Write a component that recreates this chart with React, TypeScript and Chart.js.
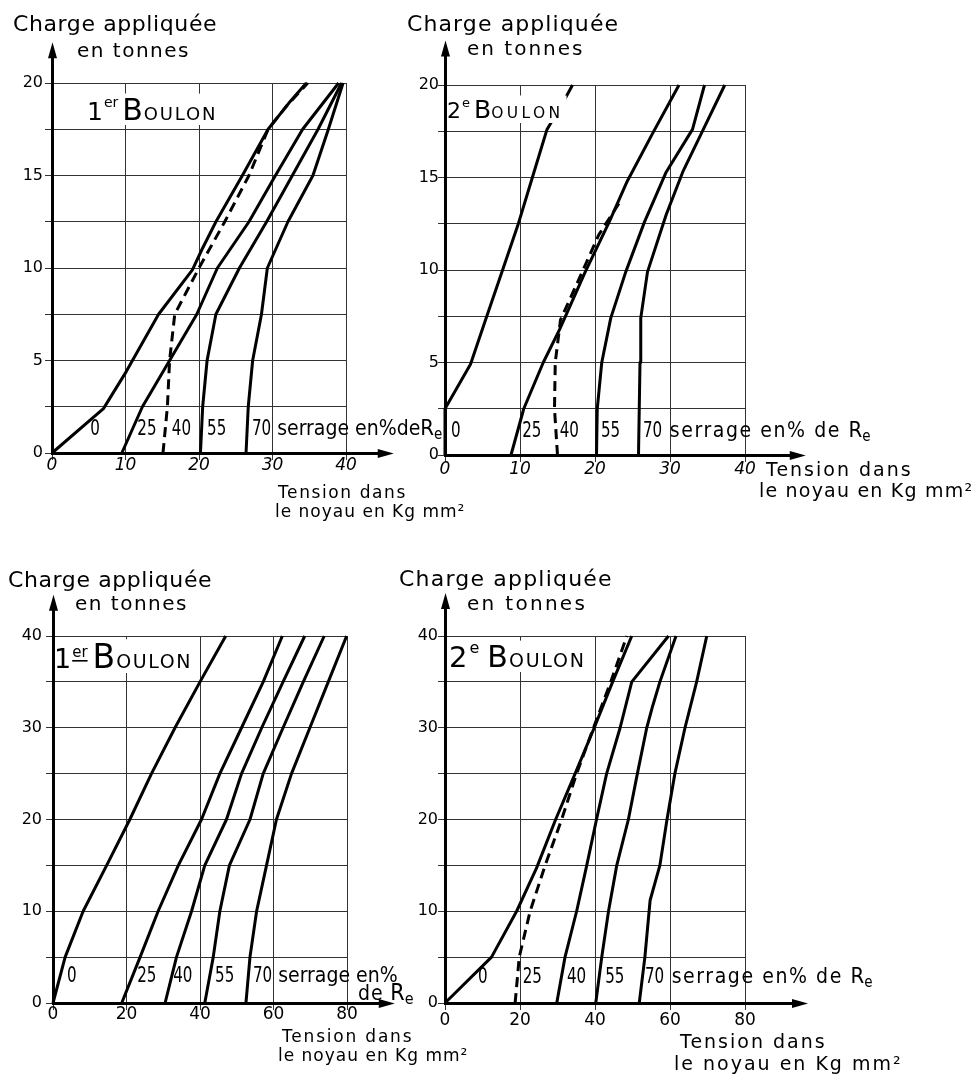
import React, { useEffect, useRef } from "react";
import { Chart, registerables } from "chart.js";

Chart.register(...registerables);

type Pt = [number, number];

// ===== Values: [tension dans le noyau (kg/mm²), charge appliquée (t)] =====

// 1er boulon – charge 0–20 t (top left)
const B1_20_S0: Pt[] = [[0, 0], [7, 2.4], [10.1, 4.4], [14.5, 7.5], [19.1, 9.9], [20.4, 11], [22.3, 12.5], [25.9, 15], [29.4, 17.5], [32.2, 18.9], [34.6, 20]];
const B1_20_S25: Pt[] = [[9.5, 0], [12.3, 2.5], [16, 5], [19.7, 7.5], [22.5, 10], [26.8, 12.5], [30.4, 15], [34.1, 17.5], [39, 20]];
const B1_20_S40: Pt[] = [[15.1, 0], [15.7, 2.5], [16, 5], [16.7, 7.5], [20, 10], [23.5, 12.5], [26.8, 15], [29.4, 17.5], [32, 18.8], [34.8, 20]];
const B1_20_S55: Pt[] = [[20.2, 0], [20.5, 2.5], [21.1, 5], [22.3, 7.5], [25.5, 10], [29.2, 12.5], [32.7, 15], [36.2, 17.5], [39.4, 20]];
const B1_20_S70: Pt[] = [[26.4, 0], [26.7, 2.5], [27.3, 5], [28.5, 7.5], [29.3, 10], [32.1, 12.5], [35.5, 15], [37.6, 17.5], [39.6, 20]];

// 2e boulon – charge 0–20 t (top right)
const B2_20_S0: Pt[] = [[0, 0], [0, 2.5], [3.4, 4.9], [5.4, 7.3], [7.6, 9.9], [9.7, 12.4], [11.8, 15.2], [13.6, 17.6], [15.8, 19.1], [17, 20]];
const B2_20_S25: Pt[] = [[8.8, 0], [10.5, 2.5], [13.1, 5], [15.3, 6.8], [18.7, 9.9], [21.9, 12.6], [24.3, 14.8], [27.7, 17.4], [31.2, 20]];
const B2_20_S40: Pt[] = [[15, 0], [14.6, 2.5], [14.7, 5], [15.4, 7.3], [18.3, 9.9], [20.5, 11.9], [23.2, 13.6]];
const B2_20_S55: Pt[] = [[20.2, 0], [20.3, 2.5], [20.9, 5], [22.1, 7.4], [24.1, 9.9], [26.6, 12.6], [29.5, 15.3], [33, 17.6], [34.6, 20]];
const B2_20_S70: Pt[] = [[25.8, 0], [26, 5], [26.1, 7.4], [27, 9.9], [29.5, 13], [31.7, 15.3], [34.2, 17.4], [37.3, 20]];

// 1er boulon – charge 0–40 t (bottom left)
const B1_40_S0: Pt[] = [[0, 0], [3.3, 5], [8.2, 10], [14.6, 15], [20.9, 20], [26.8, 25], [33.2, 30], [40, 35], [47, 40]];
const B1_40_S25: Pt[] = [[18.7, 0], [23.7, 5], [28.6, 10], [34.1, 15], [40.4, 20], [45.4, 25], [51.3, 30], [57.2, 35], [62.4, 40]];
const B1_40_S40: Pt[] = [[30.5, 0], [33.6, 5], [37.7, 10], [41.3, 15], [47.2, 20], [51.3, 25], [56.8, 30], [62.6, 35], [68.5, 40]];
const B1_40_S55: Pt[] = [[41.3, 0], [43.6, 5], [45.4, 10], [48, 15], [53.6, 20], [57.2, 25], [62.6, 30], [68.1, 35], [73.8, 40]];
const B1_40_S70: Pt[] = [[52.5, 0], [53.6, 5], [55.4, 10], [58.1, 15], [60.8, 20], [64.9, 25], [69.9, 30], [74.9, 35], [79.9, 40]];

// 2e boulon – charge 0–40 t (bottom right)
const B2_40_S0: Pt[] = [[0, 0], [12.4, 5], [19.1, 10], [24.4, 14.7], [29.5, 20], [34.7, 25], [39.8, 30], [44.7, 35], [49.8, 40]];
const B2_40_S25: Pt[] = [[18.7, 0], [19.8, 5], [22.7, 10], [26.7, 15], [31.1, 20], [35.1, 25], [39.6, 30], [44.2, 35], [48.5, 40]];
const B2_40_S40: Pt[] = [[29.8, 0], [32, 5], [35.1, 10], [37.8, 15], [40.4, 20], [43.1, 25], [46.7, 30], [49.8, 35], [59.6, 40]];
const B2_40_S55: Pt[] = [[40.2, 0], [41.8, 5], [43.6, 10], [45.8, 15], [48.9, 20], [51.3, 25], [53.8, 30], [55.4, 32.4], [57.3, 35], [61.6, 40]];
const B2_40_S70: Pt[] = [[51.8, 0], [53.3, 5], [54.7, 11.2], [57.3, 15], [59.2, 20], [61.3, 25], [64, 30], [67.1, 35], [69.8, 40]];

// Serrage labels (% de Re) and where they sit along x
const SERRAGE_LABELS = ["0", "25", "40", "55", "70"];
const B1_20_LABEL_X = [5.2, 11.6, 16.3, 21.1, 27.2];
const B2_20_LABEL_X = [0.8, 10.3, 15.3, 20.8, 26.4];
const B1_40_LABEL_X = [3.8, 22.9, 32.7, 44.1, 54.4];
const B2_40_LABEL_X = [8.8, 20.7, 32.5, 42.7, 53.3];

// Ticks
const Y_GRID_20 = [0, 2.5, 5, 7.5, 10, 12.5, 15, 17.5, 20];
const Y_LABELS_20 = [0, 5, 10, 15, 20];
const X_TICKS_40 = [0, 10, 20, 30, 40];
const Y_GRID_40 = [0, 5, 10, 15, 20, 25, 30, 35, 40];
const Y_LABELS_40 = [0, 10, 20, 30, 40];
const X_TICKS_80 = [0, 20, 40, 60, 80];

// ===== Drawing helpers =====
const FAMILY = '"DejaVu Sans", "Liberation Sans", sans-serif';

interface Part { t: string; size: number; sx?: number; sp?: number; dx?: number; dy?: number; ul?: boolean }
interface TextItem { t: string; x: number; y: number; size: number; sp: number }
interface Spec {
  canvas: { x: number; y: number; w: number; h: number };
  plot: { left: number; top: number; right: number; bottom: number };
  xMax: number; yMax: number;
  xTicks: number[]; yGrid: number[]; yLabels: number[];
  xTip: number; yTip: number;
  xPad: number; yPad: number; xItalic: boolean;
  series: { pts: Pt[]; dashed: boolean }[];
  labelX: number[]; labelY: number;
  tail: Part[];
  line2?: { x: number; y: number; parts: Part[] };
  badge: { x: number; y: number; parts: Part[] };
  texts: TextItem[];
}

const DIGIT = { size: 21, sx: 0.72 };
const WORD = { size: 21, sx: 0.9 };

function drawParts(ctx: CanvasRenderingContext2D, x: number, y: number, parts: Part[], draw = true): number {
  let cx = x;
  for (const p of parts) {
    cx += p.dx ?? 0;
    const sx = p.sx ?? 1;
    ctx.save();
    ctx.font = `${p.size}px ${FAMILY}`;
    (ctx as any).letterSpacing = `${p.sp ?? 0}px`;
    ctx.textAlign = "left";
    ctx.textBaseline = "alphabetic";
    const w = ctx.measureText(p.t).width * sx;
    if (draw) {
      ctx.fillStyle = "#000";
      ctx.translate(cx, y + (p.dy ?? 0));
      ctx.scale(sx, 1);
      ctx.fillText(p.t, 0, 0);
    }
    ctx.restore();
    if (draw && p.ul) {
      ctx.save();
      ctx.fillStyle = "#000";
      ctx.fillRect(cx, y + (p.dy ?? 0) + 3, w - (p.sp ?? 0) * sx, 1.6);
      ctx.restore();
    }
    cx += w;
  }
  return cx;
}

function decoPlugin(s: Spec) {
  const ox = s.canvas.x, oy = s.canvas.y;
  return {
    id: "deco",
    afterDatasetsDraw(chart: any) {
      const ctx: CanvasRenderingContext2D = chart.ctx;
      const area = chart.chartArea;
      const bx = s.badge.x - ox, by = s.badge.y - oy;
      const end = drawParts(ctx, bx, by, s.badge.parts, false);
      const maxSize = Math.max(...s.badge.parts.map((p) => p.size));
      const left = Math.max(bx - 3, area.left + 2);
      const top = Math.max(by - maxSize * 0.78 - 3, area.top + 2);
      ctx.save();
      ctx.fillStyle = "#fff";
      ctx.fillRect(left, top, end + 3 - left, by + 5 - top);
      ctx.restore();
      drawParts(ctx, bx, by, s.badge.parts);
    },
    afterDraw(chart: any) {
      const ctx: CanvasRenderingContext2D = chart.ctx;
      const xs = chart.scales.x, ys = chart.scales.y;
      const area = chart.chartArea;
      const x0 = Math.round(xs.getPixelForValue(0) - 1.5) + 1.5;
      const y0 = Math.round(ys.getPixelForValue(0) - 1.5) + 1.5;
      ctx.save();
      ctx.strokeStyle = "#000";
      ctx.fillStyle = "#000";
      ctx.lineWidth = 3;
      const ty = ys.getPixelForValue(s.yTip);
      ctx.beginPath(); ctx.moveTo(x0, area.bottom); ctx.lineTo(x0, ty + 10); ctx.stroke();
      ctx.beginPath(); ctx.moveTo(x0, ty); ctx.lineTo(x0 - 4.5, ty + 16); ctx.lineTo(x0 + 4.5, ty + 16); ctx.closePath(); ctx.fill();
      const tx = xs.getPixelForValue(s.xTip);
      ctx.beginPath(); ctx.moveTo(area.left, y0); ctx.lineTo(tx - 10, y0); ctx.stroke();
      ctx.beginPath(); ctx.moveTo(tx, y0); ctx.lineTo(tx - 16, y0 - 4.5); ctx.lineTo(tx - 16, y0 + 4.5); ctx.closePath(); ctx.fill();
      ctx.restore();

      // serrage labels
      s.labelX.forEach((xv, i) => {
        const px = xs.getPixelForValue(xv), py = ys.getPixelForValue(s.labelY);
        const parts: Part[] = [{ t: SERRAGE_LABELS[i], ...DIGIT }];
        if (i === SERRAGE_LABELS.length - 1) parts.push(...s.tail);
        drawParts(ctx, px, py, parts);
      });
      if (s.line2) drawParts(ctx, xs.getPixelForValue(s.line2.x), ys.getPixelForValue(s.line2.y), s.line2.parts);

      // axis titles
      s.texts.forEach((t) => drawParts(ctx, t.x - ox, t.y - oy, [{ t: t.t, size: t.size, sp: t.sp }]));
    },
  };
}

function buildConfig(s: Spec): any {
  const c = s.canvas, p = s.plot;
  const yAxisW = p.left - c.x;
  const xAxisH = 30;
  const padding = { left: 0, top: p.top - c.y, right: c.x + c.w - p.right, bottom: c.y + c.h - p.bottom - xAxisH };
  const grid = { color: "#333", lineWidth: 1, tickLength: 7, tickColor: "#333", drawTicks: true };
  const border = { display: true, color: "#000", width: 3 };
  return {
    type: "scatter",
    data: {
      datasets: s.series.map((sr) => ({
        data: sr.pts.map(([x, y]) => ({ x, y })),
        showLine: true,
        borderColor: "#000",
        backgroundColor: "#000",
        borderWidth: 3,
        pointRadius: 0,
        borderDash: sr.dashed ? [10, 6] : [],
        tension: 0,
        fill: false,
        clip: 3,
        borderJoinStyle: "round",
      })),
    },
    options: {
      responsive: false,
      animation: false,
      devicePixelRatio: 1,
      events: [],
      layout: { padding },
      plugins: { legend: { display: false }, tooltip: { enabled: false } },
      scales: {
        x: {
          type: "linear",
          min: 0,
          max: s.xMax,
          afterBuildTicks: (sc: any) => { sc.ticks = s.xTicks.map((v) => ({ value: v })); },
          afterFit: (sc: any) => { sc.height = xAxisH; },
          ticks: {
            autoSkip: false, maxRotation: 0, minRotation: 0, padding: s.xPad, color: "#000",
            font: { family: FAMILY, size: 17, style: s.xItalic ? "italic" : "normal", lineHeight: 1.2 },
            callback: (v: number) => String(v),
          },
          grid, border,
        },
        y: {
          type: "linear",
          min: 0,
          max: s.yMax,
          afterBuildTicks: (sc: any) => { sc.ticks = s.yGrid.map((v) => ({ value: v })); },
          afterFit: (sc: any) => { sc.width = yAxisW; },
          ticks: {
            autoSkip: false, padding: s.yPad, color: "#000",
            font: { family: FAMILY, size: 16 },
            callback: (v: number) => (s.yLabels.includes(v) ? String(v) : ""),
          },
          grid, border,
        },
      },
    },
    plugins: [decoPlugin(s)],
  };
}

const TAIL_COMPACT: Part[] = [{ t: " serrage en%de", ...WORD }, { t: "R", size: 22, sx: 0.9 }, { t: "e", size: 15, sx: 0.9, dy: 4 }];
const TAIL_WIDE: Part[] = [{ t: " serrage en% de ", ...WORD, sp: 1.75 }, { t: "R", size: 22, sx: 0.9 }, { t: "e", size: 15, sx: 0.9, dy: 4 }];

const SPECS: Spec[] = [
  {
    canvas: { x: 0, y: 0, w: 489, h: 540 },
    plot: { left: 52, top: 83, right: 346, bottom: 453 },
    xMax: 40, yMax: 20, xTicks: X_TICKS_40, yGrid: Y_GRID_20, yLabels: Y_LABELS_20,
    xTip: 46.5, yTip: 22.2, xPad: -5, yPad: 2, xItalic: true,
    series: [
      { pts: B1_20_S0, dashed: false }, { pts: B1_20_S25, dashed: false }, { pts: B1_20_S40, dashed: true },
      { pts: B1_20_S55, dashed: false }, { pts: B1_20_S70, dashed: false },
    ],
    labelX: B1_20_LABEL_X, labelY: 1.0, tail: TAIL_COMPACT,
    badge: { x: 87, y: 120, parts: [{ t: "1", size: 25 }, { t: "er", size: 14, dy: -13, dx: 1 }, { t: "B", size: 30, dx: 4 }, { t: "OULON", size: 18, sp: 1.8, dx: 1 }] },
    texts: [
      { t: "Charge appliquée", x: 13, y: 31, size: 22, sp: 0.6 },
      { t: "en tonnes", x: 77, y: 57, size: 20, sp: 1.5 },
      { t: "Tension dans", x: 278, y: 498, size: 17, sp: 1.6 },
      { t: "le noyau en Kg mm²", x: 275, y: 517, size: 17, sp: 1 },
    ],
  },
  {
    canvas: { x: 390, y: 0, w: 588, h: 540 },
    plot: { left: 445, top: 85, right: 745, bottom: 455 },
    xMax: 40, yMax: 20, xTicks: X_TICKS_40, yGrid: Y_GRID_20, yLabels: Y_LABELS_20,
    xTip: 48.1, yTip: 22.4, xPad: -3, yPad: -1, xItalic: true,
    series: [
      { pts: B2_20_S0, dashed: false }, { pts: B2_20_S25, dashed: false }, { pts: B2_20_S40, dashed: true },
      { pts: B2_20_S55, dashed: false }, { pts: B2_20_S70, dashed: false },
    ],
    labelX: B2_20_LABEL_X, labelY: 0.97, tail: TAIL_WIDE,
    badge: { x: 447, y: 118, parts: [{ t: "2", size: 22 }, { t: "e", size: 13, dy: -11, dx: 1 }, { t: "B", size: 25, dx: 4 }, { t: "OULON", size: 15.5, sp: 3.4, dx: 0 }] },
    texts: [
      { t: "Charge appliquée", x: 407, y: 31, size: 22, sp: 1.1 },
      { t: "en tonnes", x: 467, y: 55, size: 20, sp: 2 },
      { t: "Tension dans", x: 766, y: 476, size: 19, sp: 2 },
      { t: "le noyau en Kg mm²", x: 759, y: 497, size: 19, sp: 1.2 },
    ],
  },
  {
    canvas: { x: 0, y: 540, w: 489, h: 535 },
    plot: { left: 53, top: 636, right: 347, bottom: 1003 },
    xMax: 80, yMax: 40, xTicks: X_TICKS_80, yGrid: Y_GRID_40, yLabels: Y_LABELS_40,
    xTip: 93, yTip: 44.5, xPad: -6, yPad: 4, xItalic: false,
    series: [
      { pts: B1_40_S0, dashed: false }, { pts: B1_40_S25, dashed: false }, { pts: B1_40_S40, dashed: false },
      { pts: B1_40_S55, dashed: false }, { pts: B1_40_S70, dashed: false },
    ],
    labelX: B1_40_LABEL_X, labelY: 2.3, tail: [{ t: " serrage en%", ...WORD }],
    line2: { x: 83, y: 0.33, parts: [{ t: "de ", ...WORD, sp: 1 }, { t: "R", size: 23, sx: 0.9 }, { t: "e", size: 16, sx: 0.9, dy: 4 }] },
    badge: { x: 54, y: 668, parts: [{ t: "1", size: 27 }, { t: "er", size: 15, dy: -11, dx: 1, ul: true }, { t: "B", size: 33, dx: 5 }, { t: "OULON", size: 19, sp: 1.6, dx: 1 }] },
    texts: [
      { t: "Charge appliquée", x: 8, y: 587, size: 22, sp: 0.6 },
      { t: "en tonnes", x: 75, y: 610, size: 20, sp: 1.5 },
      { t: "Tension dans", x: 282, y: 1042, size: 17, sp: 1.8 },
      { t: "le noyau en Kg mm²", x: 278, y: 1061, size: 17, sp: 1 },
    ],
  },
  {
    canvas: { x: 390, y: 540, w: 588, h: 535 },
    plot: { left: 445, top: 636, right: 745, bottom: 1003 },
    xMax: 80, yMax: 40, xTicks: X_TICKS_80, yGrid: Y_GRID_40, yLabels: Y_LABELS_40,
    xTip: 96.8, yTip: 44.7, xPad: 0, yPad: 0, xItalic: false,
    series: [
      { pts: B2_40_S0, dashed: false }, { pts: B2_40_S25, dashed: true }, { pts: B2_40_S40, dashed: false },
      { pts: B2_40_S55, dashed: false }, { pts: B2_40_S70, dashed: false },
    ],
    labelX: B2_40_LABEL_X, labelY: 2.2, tail: TAIL_WIDE,
    badge: { x: 449, y: 667, parts: [{ t: "2", size: 29 }, { t: "e", size: 16, dy: -14, dx: 2 }, { t: "B", size: 30, dx: 8 }, { t: "OULON", size: 19, sp: 1.8, dx: 1 }] },
    texts: [
      { t: "Charge appliquée", x: 399, y: 586, size: 22, sp: 1.2 },
      { t: "en tonnes", x: 467, y: 610, size: 20, sp: 2.3 },
      { t: "Tension dans", x: 680, y: 1048, size: 19, sp: 2 },
      { t: "le noyau en Kg mm²", x: 674, y: 1070, size: 19, sp: 2 },
    ],
  },
];

function Panel({ spec }: { spec: Spec }) {
  const ref = useRef<HTMLCanvasElement>(null);
  useEffect(() => {
    const chart = new Chart(ref.current as HTMLCanvasElement, buildConfig(spec));
    return () => chart.destroy();
  }, [spec]);
  const c = spec.canvas;
  return (
    <canvas
      ref={ref}
      width={c.w}
      height={c.h}
      style={{ position: "absolute", left: c.x, top: c.y, width: c.w, height: c.h }}
    />
  );
}

export default function App() {
  return (
    <div style={{ position: "fixed", left: 0, top: 0, width: 978, height: 1075, background: "#fff", overflow: "hidden" }}>
      {SPECS.map((s, i) => (
        <Panel key={i} spec={s} />
      ))}
    </div>
  );
}
